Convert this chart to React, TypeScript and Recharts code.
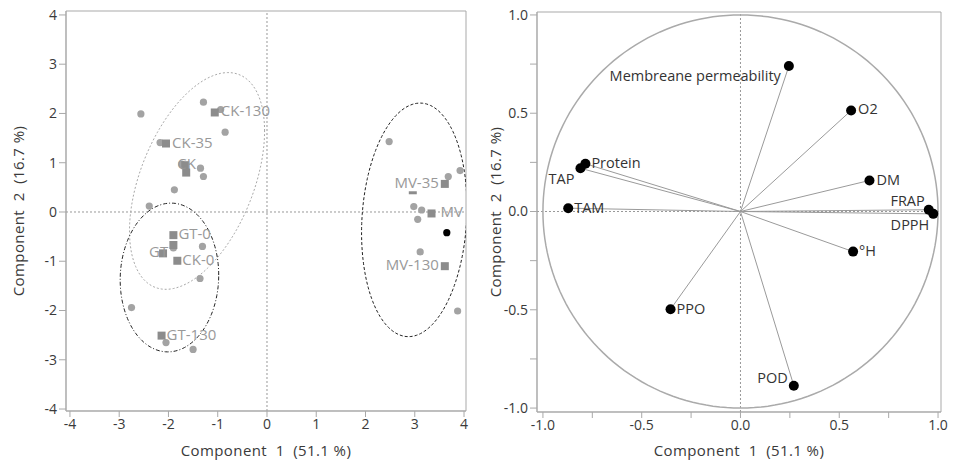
import React from "react";
import {
  ScatterChart,
  Scatter,
  XAxis,
  YAxis,
  ReferenceLine,
  ReferenceArea,
} from "recharts";

// score plot - individual samples (grey dots)
const sampleX = [-2.56, -1.29, -0.94, -0.85, -2.17, -1.73, -1.35, -1.29, -1.88, -2.39, 2.48, 3.68, 3.92, 2.98, 3.14, 3.06, 3.11, 3.87, -1.9, -1.31, -1.36, -2.75, -2.05, -1.5];
const sampleY = [1.99, 2.23, 2.08, 1.62, 1.41, 0.97, 0.89, 0.72, 0.45, 0.12, 1.43, 0.72, 0.84, 0.11, 0.04, -0.15, -0.81, -2.01, -0.73, -0.7, -1.35, -1.94, -2.65, -2.79];

// score plot - group means (squares)
const groupNames = ["CK-130", "CK-35", "CK", "", "GT-0", "", "GT", "CK-0", "GT-130", "MV-35", "MV", "MV-130"];
const groupX = [-1.06, -2.05, -1.66, -1.64, -1.9, -1.9, -2.11, -1.82, -2.14, 3.61, 3.34, 3.61];
const groupY = [2.02, 1.39, 0.95, 0.8, -0.47, -0.67, -0.84, -0.99, -2.51, 0.57, -0.03, -1.1];

// partly hidden mean and the highlighted sample
const hiddenX = [2.96];
const hiddenY = [0.39];
const selectedX = [3.65];
const selectedY = [-0.42];

// confidence ellipses (centre + covariance)
const ellipses = [
  { name: "CK", cx: -1.42, cy: 0.63, sxx: 1.88, syy: 4.84, sxy: 1.39, stroke: "#a8a8a8", dash: "2 2" },
  { name: "GT", cx: -1.98, cy: -1.33, sxx: 1.0, syy: 2.28, sxy: 0.05, stroke: "#222", dash: "4 2 1 2" },
  { name: "MV", cx: 2.99, cy: -0.16, sxx: 1.145, syy: 5.62, sxy: 0.28, stroke: "#222", dash: "3 2" },
];

// loading plot
const loadNames = ["Membreane permeability", "O2", "Protein", "TAP", "DM", "TAM", "FRAP", "DPPH", "°H", "PPO", "POD"];
const loadX = [0.245, 0.56, -0.785, -0.81, 0.653, -0.872, 0.953, 0.976, 0.57, -0.354, 0.27];
const loadY = [0.74, 0.514, 0.243, 0.22, 0.158, 0.017, 0.009, -0.012, -0.204, -0.497, -0.886];

const scoreTicks = [-4, -3, -2, -1, 0, 1, 2, 3, 4];
const loadTicks = [-1, -0.75, -0.5, -0.25, 0, 0.25, 0.5, 0.75, 1];

const groupLabelPos: Record<string, [number, "start" | "end"]> = {
  "CK-130": [6, "start"],
  "CK-35": [6, "start"],
  CK: [-8, "start"],
  "GT-0": [5, "start"],
  GT: [-14, "start"],
  "CK-0": [5, "start"],
  "GT-130": [5, "start"],
  "MV-35": [-6, "end"],
  MV: [9, "start"],
  "MV-130": [-6, "end"],
};

const loadLabelPos: Record<string, [number, number, "start" | "end"]> = {
  "Membreane permeability": [-8, 11, "end"],
  O2: [7, 0, "start"],
  Protein: [6, 0, "start"],
  TAP: [-6, 12, "end"],
  DM: [7, 1, "start"],
  TAM: [6, 1, "start"],
  FRAP: [-4, -8, "end"],
  DPPH: [-4, 12, "end"],
  "°H": [6, 1, "start"],
  PPO: [6, 1, "start"],
  POD: [-6, -7, "end"],
};

const zip = (xs: number[], ys: number[], names?: string[]) =>
  xs.map((x, i) => ({ x, y: ys[i], name: names ? names[i] : "" }));

const ellipsePoints = (e: (typeof ellipses)[number]) => {
  const l11 = Math.sqrt(e.sxx);
  const l21 = e.sxy / l11;
  const l22 = Math.sqrt(e.syy - l21 * l21);
  const pts = [];
  for (let i = 0; i <= 160; i++) {
    const t = (2 * Math.PI * i) / 160;
    pts.push({ x: e.cx + l11 * Math.cos(t), y: e.cy + l21 * Math.cos(t) + l22 * Math.sin(t) });
  }
  return pts;
};

const unitCircle = () => {
  const pts = [];
  for (let i = 0; i <= 180; i++) {
    const t = (2 * Math.PI * i) / 180;
    pts.push({ x: Math.cos(t), y: Math.sin(t) });
  }
  return pts;
};

const colors = {
  axis: "#a9a9a9",
  tick: "#3a3a3a",
  dot: "#a3a3a3",
  square: "#8c8c8c",
  groupText: "#999",
  loadLine: "#9a9a9a",
  loadText: "#333",
};

const noShape = () => <g />;

const axisTitle = (text: string, vertical: boolean, off: number) => (props: any) => {
  const vb = props.viewBox;
  const style = { whiteSpace: "pre" as const, letterSpacing: 0.4 };
  if (vertical) {
    const x = vb.x + off;
    const y = vb.y + vb.height / 2;
    return (
      <text x={x} y={y} transform={`rotate(-90 ${x} ${y})`} textAnchor="middle" dominantBaseline="middle" fill={colors.tick} fontSize={15} style={style}>
        {text}
      </text>
    );
  }
  return (
    <text x={vb.x + vb.width / 2} y={vb.y + off} textAnchor="middle" dominantBaseline="middle" fill={colors.tick} fontSize={15} style={style}>
      {text}
    </text>
  );
};

const GroupShape = (props: any) => {
  const { cx, cy, payload } = props;
  const pos = groupLabelPos[payload.name];
  return (
    <g>
      <rect x={cx - 4} y={cy - 4} width={8} height={8} fill={colors.square} />
      {pos && (
        <text x={cx + pos[0]} y={cy} textAnchor={pos[1]} dominantBaseline="middle" fill={colors.groupText} fontSize={15}>
          {payload.name}
        </text>
      )}
    </g>
  );
};

const LoadShape = (props: any) => {
  const { cx, cy, payload } = props;
  const pos = loadLabelPos[payload.name];
  return (
    <g>
      <circle cx={cx} cy={cy} r={5} fill="#000" />
      <text x={cx + pos[0]} y={cy + pos[1]} textAnchor={pos[2]} dominantBaseline="middle" fill={colors.loadText} fontSize={14.5}>
        {payload.name}
      </text>
    </g>
  );
};

const tickProps = { fill: colors.tick, fontSize: 14 };
const halfStep = (v: number) => (Math.abs(v * 2 - Math.round(v * 2)) < 1e-9 ? v.toFixed(1) : "");

const App: React.FC = () => {
  const samples = zip(sampleX, sampleY);
  const groups = zip(groupX, groupY, groupNames);
  const loads = zip(loadX, loadY, loadNames);

  return (
    <div
      style={{
        position: "absolute",
        left: 0,
        top: 0,
        width: 954,
        height: 468,
        display: "flex",
        background: "#fff",
        fontFamily: "'Segoe UI', 'Open Sans', sans-serif",
      }}
    >
      <ScatterChart width={475} height={468} margin={{ top: 11, right: 9, bottom: 0, left: 0 }}>
        <XAxis
          type="number"
          dataKey="x"
          domain={[-4.08, 4.04]}
          ticks={scoreTicks}
          allowDataOverflow
          height={57}
          tick={tickProps}
          tickSize={6}
          axisLine={{ stroke: colors.axis }}
          tickLine={{ stroke: colors.axis }}
          label={axisTitle("Component  1  (51.1 %)", false, 41)}
        />
        <YAxis
          type="number"
          dataKey="y"
          domain={[-4.04, 4.08]}
          ticks={scoreTicks}
          allowDataOverflow
          width={66}
          tick={tickProps}
          tickSize={7}
          axisLine={{ stroke: colors.axis }}
          tickLine={{ stroke: colors.axis }}
          label={axisTitle("Component  2  (16.7 %)", true, 20)}
        />
        <ReferenceArea x1={-4.08} x2={4.04} y1={-4.04} y2={4.08} fill="none" stroke={colors.axis} />
        <ReferenceLine x={0} stroke="#999" strokeDasharray="2 2" />
        <ReferenceLine y={0} stroke="#999" strokeDasharray="2 2" />
        {ellipses.map((e) => (
          <Scatter
            key={e.name}
            data={ellipsePoints(e)}
            line={{ stroke: e.stroke, strokeWidth: 1, strokeDasharray: e.dash }}
            lineType="joint"
            shape={noShape}
            isAnimationActive={false}
          />
        ))}
        <Scatter data={samples} fill={colors.dot} shape={(p: any) => <circle cx={p.cx} cy={p.cy} r={3.6} fill={colors.dot} />} isAnimationActive={false} />
        <Scatter data={zip(hiddenX, hiddenY)} shape={(p: any) => <rect x={p.cx - 4} y={p.cy - 1.5} width={8} height={3} fill={colors.square} />} isAnimationActive={false} />
        <Scatter data={groups} shape={GroupShape} isAnimationActive={false} />
        <Scatter data={zip(selectedX, selectedY)} shape={(p: any) => <circle cx={p.cx} cy={p.cy} r={3.6} fill="#000" />} isAnimationActive={false} />
      </ScatterChart>

      <ScatterChart width={479} height={468} margin={{ top: 12, right: 13, bottom: 0, left: 0 }}>
        <XAxis
          type="number"
          dataKey="x"
          domain={[-1.03, 1.015]}
          ticks={loadTicks}
          allowDataOverflow
          height={56}
          tick={tickProps}
          tickSize={6}
          tickFormatter={halfStep}
          axisLine={{ stroke: colors.axis }}
          tickLine={{ stroke: colors.axis }}
          label={axisTitle("Component  1  (51.1 %)", false, 40)}
        />
        <YAxis
          type="number"
          dataKey="y"
          domain={[-1.02, 1.015]}
          ticks={loadTicks}
          allowDataOverflow
          width={62}
          tick={tickProps}
          tickSize={7}
          tickFormatter={halfStep}
          axisLine={{ stroke: colors.axis }}
          tickLine={{ stroke: colors.axis }}
          label={axisTitle("Component  2  (16.7 %)", true, 22)}
        />
        <ReferenceArea x1={-1.03} x2={1.015} y1={-1.02} y2={1.015} fill="none" stroke={colors.axis} />
        <ReferenceLine x={0} stroke="#999" strokeDasharray="2 2" />
        <ReferenceLine y={0} stroke="#999" strokeDasharray="2 2" />
        <Scatter
          data={unitCircle()}
          line={{ stroke: "#aaa", strokeWidth: 1.5 }}
          lineType="joint"
          shape={noShape}
          isAnimationActive={false}
        />
        {loads.map((d) => (
          <ReferenceLine
            key={d.name}
            segment={[
              { x: 0, y: 0 },
              { x: d.x, y: d.y },
            ]}
            stroke={colors.loadLine}
          />
        ))}
        <Scatter data={loads} shape={LoadShape} isAnimationActive={false} />
      </ScatterChart>
    </div>
  );
};

export default App;
